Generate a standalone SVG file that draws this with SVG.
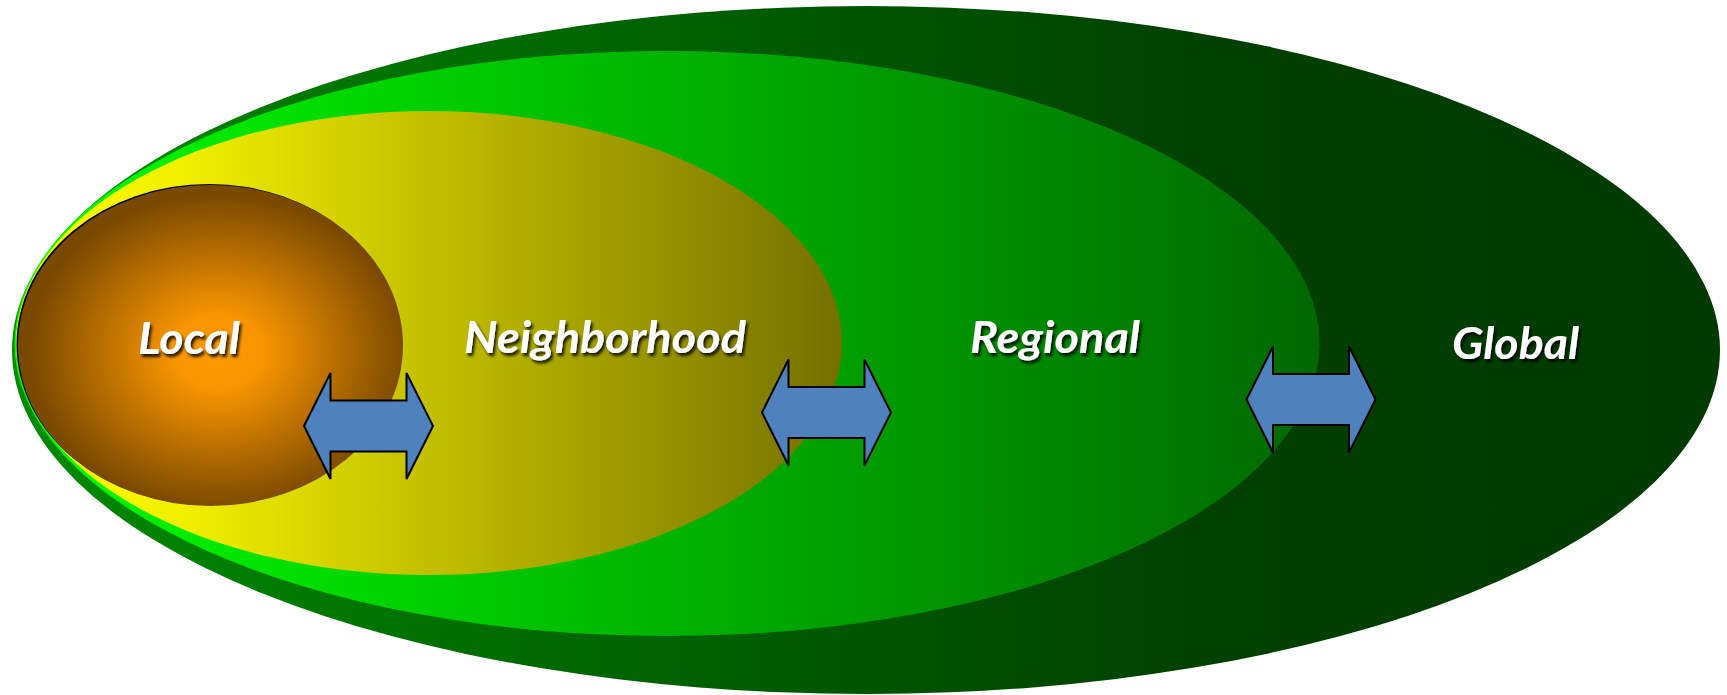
<svg xmlns="http://www.w3.org/2000/svg" xmlns:xlink="http://www.w3.org/1999/xlink" width="1727" height="695" viewBox="0 0 1727 695">
  <defs>
    <linearGradient id="gGlobal" gradientUnits="userSpaceOnUse" x1="12" y1="0" x2="1720" y2="0">
      <stop offset="0" stop-color="#008A00"/>
      <stop offset="0.7" stop-color="#004000"/>
      <stop offset="1" stop-color="#003A00"/>
    </linearGradient>
    <linearGradient id="gRegional" gradientUnits="userSpaceOnUse" x1="14" y1="0" x2="1319" y2="0">
      <stop offset="0" stop-color="#00FF00"/>
      <stop offset="1" stop-color="#006800"/>
    </linearGradient>
    <linearGradient id="gNeighborhood" gradientUnits="userSpaceOnUse" x1="16" y1="0" x2="842" y2="0">
      <stop offset="0" stop-color="#FFFF00"/>
      <stop offset="0.2" stop-color="#F2EF00"/>
      <stop offset="1" stop-color="#747000"/>
    </linearGradient>
    <radialGradient id="gLocal" cx="0.52" cy="0.52" r="0.6">
      <stop offset="0" stop-color="#FF9A00"/>
      <stop offset="0.2" stop-color="#F79400"/>
      <stop offset="0.82" stop-color="#794900"/>
      <stop offset="1" stop-color="#764700"/>
    </radialGradient>
    <filter id="shadow" x="-10%" y="-20%" width="130%" height="160%">
      <feDropShadow dx="2" dy="3" stdDeviation="1.5" flood-color="#000" flood-opacity="0.85"/>
    </filter>
    <path id="dblArrow" d="M-64.5,0 L-38,-53 L-38,-25.5 L38,-25.5 L38,-53 L64.5,0 L38,53 L38,25.5 L-38,25.5 L-38,53 Z"/>
  </defs>
  <style>
    .lbl { font-family: Lato, "Open Sans", "Liberation Sans", sans-serif; font-weight: bold; font-style: italic; font-size: 44px; fill: #FFFFFF; filter: url(#shadow); }
    .arrow { fill: #4F81BD; stroke: #000000; stroke-width: 2; stroke-linejoin: miter; }
  </style>

  <g id="global">
    <ellipse cx="866" cy="350" rx="854" ry="344" fill="url(#gGlobal)"/>
    <text class="lbl" x="1452" y="359" textLength="127" lengthAdjust="spacingAndGlyphs">Global</text>
  </g>

  <g id="regional">
    <ellipse cx="667" cy="343.5" rx="652.5" ry="292.5" fill="url(#gRegional)"/>
    <text class="lbl" x="970" y="353" textLength="170" lengthAdjust="spacingAndGlyphs">Regional</text>
  </g>

  <g id="neighborhood">
    <ellipse cx="429" cy="343" rx="413" ry="232" fill="url(#gNeighborhood)"/>
    <text class="lbl" x="464" y="353" textLength="282" lengthAdjust="spacingAndGlyphs">Neighborhood</text>
  </g>

  <g id="local">
    <ellipse cx="209" cy="344.5" rx="192.5" ry="160.5" fill="#000000"/>
    <ellipse cx="210.5" cy="345.5" rx="192.5" ry="160.5" fill="url(#gLocal)"/>
    <text class="lbl" x="138" y="354" textLength="102" lengthAdjust="spacingAndGlyphs">Local</text>
  </g>

  <g id="connectors">
    <use xlink:href="#dblArrow" class="arrow" transform="translate(368.5,426)"/>
    <use xlink:href="#dblArrow" class="arrow" transform="translate(826.5,412.5)"/>
    <use xlink:href="#dblArrow" class="arrow" transform="translate(1311,399.5)"/>
  </g>
</svg>
